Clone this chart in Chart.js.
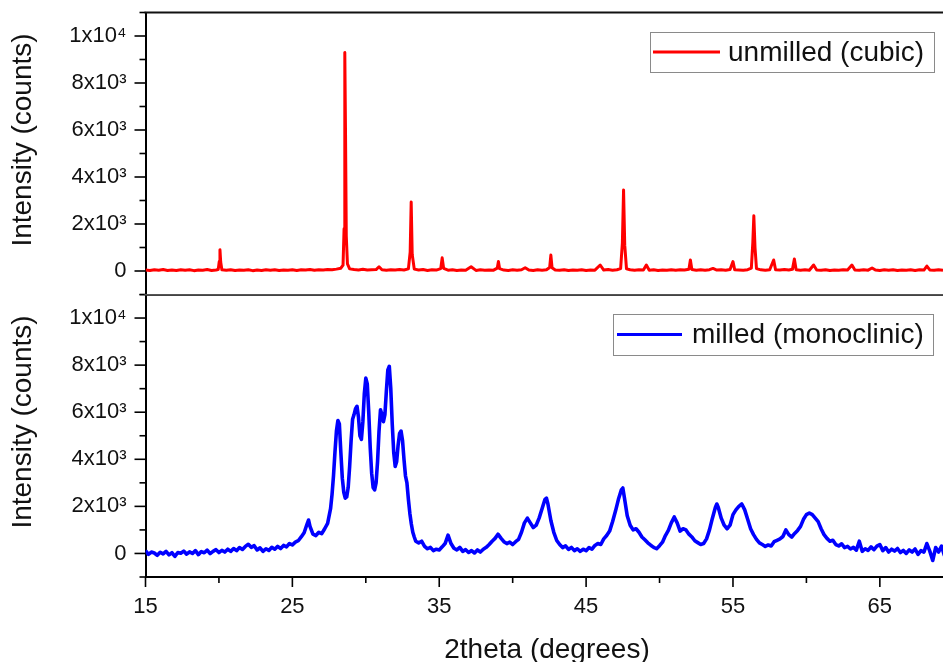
<!DOCTYPE html>
<html><head><meta charset="utf-8">
<script src="https://cdn.jsdelivr.net/npm/chart.js@4/dist/chart.umd.min.js"></script>
<style>
html,body{margin:0;padding:0;background:#fff;overflow:hidden;}
#wrap{position:relative;width:943px;height:662px;background:#fff;}
canvas{position:absolute;left:0;}
#top{top:0;}
#bot{top:294px;}
</style></head><body>
<div id="wrap"><canvas id="top" width="943" height="296"></canvas><canvas id="bot" width="943" height="368"></canvas></div>
<script>
// ---- data ----
const cubicX = [15.0,15.3,15.6,15.9,16.2,16.5,16.8,17.1,17.4,17.7,18.0,18.3,18.6,18.9,19.2,19.5,19.8,19.95,20.02,20.07,20.12,20.2,20.5,20.8,21.1,21.4,21.7,22.0,22.3,22.6,22.9,23.2,23.5,23.8,24.1,24.4,24.7,25.0,25.3,25.6,25.9,26.2,26.5,26.8,27.1,27.4,27.7,28.0,28.3,28.45,28.52,28.57,28.62,28.67,28.75,28.9,29.2,29.5,29.8,30.1,30.4,30.7,30.9,31.1,31.4,31.7,32.0,32.3,32.6,32.9,33.02,33.09,33.16,33.3,33.6,33.9,34.2,34.5,34.8,35.1,35.2,35.3,35.6,35.9,36.2,36.5,36.8,37.17,37.5,37.8,38.1,38.4,38.7,38.95,39.03,39.11,39.4,39.7,40.0,40.3,40.6,40.85,41.1,41.4,41.7,42.0,42.3,42.52,42.6,42.68,42.9,43.2,43.5,43.8,44.1,44.4,44.7,45.0,45.3,45.6,45.96,46.2,46.5,46.8,47.1,47.35,47.47,47.55,47.63,47.75,48.0,48.3,48.6,48.9,49.1,49.3,49.6,49.9,50.2,50.5,50.8,51.1,51.4,51.7,52.0,52.1,52.2,52.5,52.8,53.1,53.4,53.64,53.9,54.2,54.5,54.8,55.0,55.12,55.4,55.7,56.0,56.25,56.35,56.42,56.5,56.6,56.9,57.2,57.5,57.77,57.9,58.2,58.5,58.8,59.05,59.18,59.3,59.6,59.9,60.2,60.49,60.7,61.0,61.3,61.6,61.9,62.2,62.5,62.8,63.1,63.3,63.6,63.9,64.2,64.47,64.7,65.0,65.3,65.6,65.9,66.2,66.5,66.8,67.1,67.4,67.7,68.0,68.2,68.4,68.7,69.0,69.3,69.5];
const cubicY = [40,20,50,30,60,20,45,25,55,30,50,15,45,35,60,25,40,60,400,900,380,50,30,55,20,40,30,50,15,45,25,55,30,50,20,45,35,55,25,50,40,60,30,55,45,65,50,80,120,250,1800,9300,5800,1500,300,90,60,45,70,40,55,60,180,50,35,55,40,60,45,90,800,2940,700,80,40,60,25,50,40,100,560,110,35,55,20,45,30,180,25,50,30,45,35,120,400,100,40,25,50,30,55,140,40,25,55,35,50,150,680,140,45,30,55,20,45,30,50,25,45,35,255,40,60,35,55,100,1200,3450,1100,90,50,30,55,45,255,35,50,25,45,30,55,35,50,40,70,470,60,35,50,30,55,110,40,50,30,60,400,50,45,35,55,120,1200,2350,1000,100,50,35,55,470,50,40,60,45,70,510,55,35,50,30,255,45,30,55,20,45,30,50,40,255,45,30,55,35,130,40,25,50,30,55,20,45,35,50,25,55,40,210,45,30,55,35,45];

const monoX = [15.0,15.2,15.4,15.6,15.8,16.0,16.2,16.4,16.6,16.8,17.0,17.2,17.4,17.6,17.8,18.0,18.2,18.4,18.6,18.8,19.0,19.2,19.4,19.6,19.8,20.0,20.2,20.4,20.6,20.8,21.0,21.2,21.4,21.6,21.8,22.0,22.2,22.4,22.6,22.8,23.0,23.2,23.4,23.6,23.8,24.0,24.2,24.4,24.6,24.8,25.0,25.2,25.4,25.6,25.8,26.0,26.1,26.2,26.4,26.6,26.8,27.0,27.2,27.4,27.6,27.7,27.8,27.9,28.0,28.1,28.2,28.3,28.4,28.5,28.6,28.7,28.8,28.9,29.0,29.1,29.2,29.3,29.4,29.5,29.6,29.7,29.8,29.9,30.0,30.1,30.2,30.3,30.4,30.5,30.6,30.7,30.8,30.9,31.0,31.1,31.2,31.3,31.4,31.5,31.6,31.7,31.8,31.9,32.0,32.1,32.2,32.3,32.4,32.5,32.6,32.7,32.8,32.9,33.0,33.1,33.2,33.3,33.4,33.6,33.8,34.0,34.2,34.4,34.6,34.8,35.0,35.2,35.4,35.6,35.8,36.0,36.2,36.4,36.6,36.8,37.0,37.2,37.4,37.6,37.8,38.0,38.2,38.4,38.6,38.8,39.0,39.2,39.4,39.6,39.8,40.0,40.2,40.4,40.6,40.8,41.0,41.2,41.4,41.6,41.8,42.0,42.2,42.3,42.4,42.6,42.8,43.0,43.2,43.4,43.6,43.8,44.0,44.2,44.4,44.6,44.8,45.0,45.2,45.4,45.6,45.8,46.0,46.2,46.4,46.6,46.8,47.0,47.2,47.4,47.5,47.6,47.8,48.0,48.2,48.4,48.6,48.8,49.0,49.2,49.4,49.6,49.8,50.0,50.2,50.4,50.6,50.8,51.0,51.2,51.4,51.6,51.8,52.0,52.2,52.4,52.6,52.8,53.0,53.2,53.4,53.6,53.8,53.9,54.0,54.2,54.4,54.6,54.8,55.0,55.2,55.4,55.6,55.8,56.0,56.2,56.4,56.6,56.8,57.0,57.2,57.4,57.6,57.8,58.0,58.2,58.4,58.6,58.8,59.0,59.2,59.4,59.6,59.8,60.0,60.2,60.4,60.6,60.8,61.0,61.2,61.4,61.6,61.8,62.0,62.2,62.4,62.6,62.8,63.0,63.2,63.4,63.6,63.8,64.0,64.2,64.4,64.6,64.8,65.0,65.2,65.4,65.6,65.8,66.0,66.2,66.4,66.6,66.8,67.0,67.2,67.4,67.6,67.8,68.0,68.2,68.4,68.6,68.8,69.0,69.2,69.4];
const monoY = [120,-40,60,20,-80,50,-20,90,-60,30,-120,40,10,100,-30,70,0,120,-50,80,30,140,-10,90,160,40,130,60,180,90,210,120,250,170,300,390,260,330,150,240,90,200,130,260,180,300,210,340,280,420,360,480,540,700,880,1250,1420,1150,820,760,900,840,1050,1280,1900,2500,3300,4300,5200,5650,5500,4300,3200,2600,2350,2400,2800,3700,4800,5700,5900,6150,6250,5800,5000,4850,5600,6800,7450,7200,6000,4500,3400,2800,2700,3000,3900,5200,6100,5900,5600,5900,6900,7800,7950,7000,5500,4300,3700,3900,4600,5100,5200,4800,4000,3300,3000,2300,1700,1250,900,700,520,450,520,300,200,260,120,180,150,280,420,780,420,220,150,260,90,160,40,120,20,150,60,180,260,380,520,640,820,650,500,420,480,380,500,600,900,1300,1500,1300,1100,1200,1500,1900,2300,2350,2100,1400,900,550,380,250,320,170,260,120,200,90,180,120,250,180,340,420,380,620,760,950,1350,1800,2300,2700,2780,2400,1600,1200,1000,1050,900,700,580,450,350,260,200,330,480,760,980,1300,1550,1300,950,1050,1000,820,700,540,460,380,420,620,1000,1500,1950,2100,1950,1500,1200,1050,1200,1650,1850,2000,2100,1850,1450,1050,800,600,450,380,300,360,320,500,560,620,720,1000,800,700,850,980,1150,1450,1650,1720,1650,1500,1350,1050,800,640,520,560,380,320,410,250,300,190,260,140,520,90,200,130,280,160,310,380,120,250,60,180,100,210,40,130,0,150,60,190,-40,120,60,420,100,-300,250,60,310,-100];

const seriesNames = ['unmilled (cubic)', 'milled (monoclinic)'];
const yTickLabels = {0:'0', 2000:'2x10³', 4000:'4x10³', 6000:'6x10³', 8000:'8x10³', 10000:'1x10⁴'};
const xTickLabels = [15, 25, 35, 45, 55, 65];
const xTitle = '2theta (degrees)';
const yTitle = 'Intensity (counts)';

// ---- styling / layout ----
const FONT = '"Liberation Sans", Arial, sans-serif';
const TEXT = '#111';
const X_MIN = 15, X_MAX = 69.3, Y_MIN = -1000, Y_MAX = 11000;

function toPts(xs, ys){ return xs.map((x,i)=>({x:x, y:ys[i]})); }
function zeroPad(s){ s.paddingTop = 0; s.paddingBottom = 0; s.paddingLeft = 0; s.paddingRight = 0; }

function decor(o){
  return {
    id: 'decor',
    afterDraw(chart){
      const ctx = chart.ctx, a = chart.chartArea, xs = chart.scales.x, ys = chart.scales.y;
      ctx.save();
      ctx.strokeStyle = '#000'; ctx.lineWidth = 1.6;
      // y ticks (major + minor)
      for (let v = Y_MIN; v <= Y_MAX; v += 1000){
        const py = ys.getPixelForValue(v);
        const major = (v % 2000 === 0) && v >= 0 && v <= 10000;
        ctx.beginPath(); ctx.moveTo(a.left, py); ctx.lineTo(a.left - (major ? 11 : 6), py); ctx.stroke();
      }
      // panel borders
      ctx.lineWidth = 2; ctx.strokeStyle = o.topColor;
      ctx.beginPath(); ctx.moveTo(a.left - 1, a.top); ctx.lineTo(a.right, a.top); ctx.stroke();
      if (o.bottomTicks){
        ctx.strokeStyle = '#000'; ctx.lineWidth = 1.6;
        for (let v = 15; v <= 65; v += 5){
          const px = xs.getPixelForValue(v);
          const major = (v - 15) % 10 === 0;
          ctx.beginPath(); ctx.moveTo(px, a.bottom); ctx.lineTo(px, a.bottom + (major ? 10 : 6)); ctx.stroke();
        }
        ctx.fillStyle = TEXT; ctx.font = '28px ' + FONT; ctx.textAlign = 'center'; ctx.textBaseline = 'alphabetic';
        ctx.fillText(xTitle, o.xTitleX, o.xTitleY);
      }
      // y title
      ctx.save();
      ctx.translate(o.yTitleX, o.yTitleY); ctx.rotate(-Math.PI/2);
      ctx.fillStyle = TEXT; ctx.font = '28px ' + FONT; ctx.textAlign = 'center'; ctx.textBaseline = 'middle';
      ctx.fillText(yTitle, 0, 0);
      ctx.restore();
      // legend
      const L = o.legend;
      ctx.strokeStyle = '#8a8a8a'; ctx.lineWidth = 1;
      ctx.strokeRect(L.x + 0.5, L.y + 0.5, L.w, L.h);
      ctx.strokeStyle = o.color; ctx.lineWidth = 3;
      ctx.beginPath(); ctx.moveTo(L.lx1, L.y + L.h/2); ctx.lineTo(L.lx2, L.y + L.h/2); ctx.stroke();
      ctx.fillStyle = TEXT; ctx.font = '28px ' + FONT; ctx.textAlign = 'left'; ctx.textBaseline = 'middle';
      ctx.fillText(o.name, L.tx, L.y + L.h/2 + 1);
      ctx.restore();
    }
  };
}

function makeChart(id, pts, color, lw, o){
  return new Chart(document.getElementById(id), {
    type: 'line',
    data: { datasets: [{ data: pts, borderColor: color, borderWidth: lw, pointRadius: 0, tension: 0, fill: false, borderJoinStyle: 'round' }] },
    options: {
      responsive: false, animation: false, devicePixelRatio: 1, events: [],
      layout: { autoPadding: false, padding: { top: o.padTop, left: 0, right: 0, bottom: 0 } },
      plugins: { legend: { display: false }, tooltip: { enabled: false } },
      scales: {
        x: {
          type: 'linear', min: X_MIN, max: X_MAX,
          grid: { display: false, drawTicks: false },
          border: { display: true, color: o.xBorder, width: 2 },
          ticks: {
            display: o.xLabels, stepSize: 5, includeBounds: false, autoSkip: false, maxRotation: 0,
            padding: 17, color: TEXT, font: { family: FONT, size: 22 },
            callback: (v) => xTickLabels.includes(v) ? String(v) : ''
          },
          afterFit: (s) => { s.height = o.xHeight; zeroPad(s); }
        },
        y: {
          min: Y_MIN, max: Y_MAX,
          grid: { display: false, drawTicks: false },
          border: { display: true, color: '#000', width: 2 },
          ticks: {
            stepSize: 1000, autoSkip: false, padding: 19, color: TEXT, font: { family: FONT, size: 22 },
            callback: (v) => (yTickLabels[v] !== undefined ? yTickLabels[v] : '')
          },
          afterFit: (s) => { s.width = 145.5; zeroPad(s); }
        }
      }
    },
    plugins: [decor(o)]
  });
}

makeChart('top', toPts(cubicX, cubicY), '#ff0000', 3, {
  padTop: 12.5, xHeight: 1.5, xLabels: false, xBorder: '#333', topColor: '#111', bottomTicks: false,
  color: '#ff0000', name: seriesNames[0],
  yTitleX: 23, yTitleY: 140,
  legend: { x: 650, y: 32, w: 284, h: 40, lx1: 653, lx2: 720, tx: 728 }
});
makeChart('bot', toPts(monoX, monoY), '#0000ff', 3.6, {
  padTop: 0.5, xHeight: 85, xLabels: true, xBorder: '#000', topColor: '#555', bottomTicks: true,
  color: '#0000ff', name: seriesNames[1],
  yTitleX: 23, yTitleY: 128, xTitleX: 547, xTitleY: 364,
  legend: { x: 613, y: 20, w: 320, h: 41, lx1: 617, lx2: 682, tx: 692 }
});
</script>
</body></html>
